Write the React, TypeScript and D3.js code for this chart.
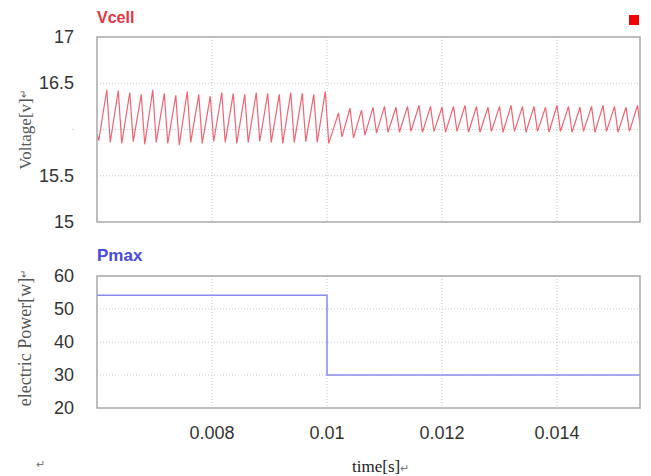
import React from "react";
import * as d3 from "d3";

// Vcell waveform vertices: [time s, voltage V]
const vcellPoints: [number, number][] = [
  [0.006, 15.95],
  [0.00603, 15.88], [0.00617, 16.43], [0.00623, 15.86], [0.00637, 16.42],
  [0.00643, 15.85], [0.00657, 16.4], [0.00663, 15.87], [0.00677, 16.38],
  [0.00683, 15.84], [0.00697, 16.43], [0.00703, 15.86], [0.00717, 16.39],
  [0.00723, 15.85], [0.00737, 16.37], [0.00743, 15.83], [0.00757, 16.41],
  [0.00763, 15.86], [0.00777, 16.38], [0.00783, 15.85], [0.00797, 16.36],
  [0.00803, 15.87], [0.00817, 16.4], [0.00823, 15.86], [0.00837, 16.39],
  [0.00843, 15.85], [0.00857, 16.38], [0.00863, 15.86], [0.00877, 16.4],
  [0.00883, 15.87], [0.00897, 16.39], [0.00903, 15.86], [0.00917, 16.38],
  [0.00923, 15.85], [0.00937, 16.4], [0.00943, 15.86], [0.00957, 16.39],
  [0.00963, 15.87], [0.00977, 16.38], [0.00983, 15.86], [0.00997, 16.41],
  [0.01003, 15.85],
  [0.0102, 16.18], [0.01026, 15.92], [0.0104, 16.23], [0.01046, 15.91],
  [0.0106, 16.21], [0.01066, 15.94], [0.0108, 16.24], [0.01086, 15.96],
  [0.011, 16.25], [0.01106, 15.97], [0.0112, 16.24], [0.01126, 15.97],
  [0.0114, 16.25], [0.01146, 15.98], [0.0116, 16.26], [0.01166, 15.97],
  [0.0118, 16.25], [0.01186, 15.98], [0.012, 16.24], [0.01206, 15.97],
  [0.0122, 16.25], [0.01226, 15.98], [0.0124, 16.26], [0.01246, 15.97],
  [0.0126, 16.25], [0.01266, 15.97], [0.0128, 16.24], [0.01286, 15.98],
  [0.013, 16.25], [0.01306, 15.97], [0.0132, 16.26], [0.01326, 15.98],
  [0.0134, 16.25], [0.01346, 15.97], [0.0136, 16.25], [0.01366, 15.98],
  [0.0138, 16.24], [0.01386, 15.97], [0.014, 16.26], [0.01406, 15.98],
  [0.0142, 16.25], [0.01426, 15.97], [0.0144, 16.24], [0.01446, 15.98],
  [0.0146, 16.25], [0.01466, 15.97], [0.0148, 16.26], [0.01486, 15.98],
  [0.015, 16.25], [0.01506, 15.97], [0.0152, 16.24], [0.01526, 15.98],
  [0.0154, 16.26], [0.01546, 15.97],
];

// Pmax step values
const pmaxTime = [0.006, 0.01, 0.015443];
const pmaxValue = [54.2, 30, 30];

const xTicks = [0.008, 0.01, 0.012, 0.014];
const vGrid = [16.5, 16, 15.5];
const vTickLabels = [17, 16.5, 15.5, 15];
const pTicks = [60, 50, 40, 30, 20];
const pGrid = [50, 40, 30];

const W = 651;
const H = 476;
const left = 97;
const right = 640;
const top1 = 37;
const bot1 = 222;
const top2 = 276;
const bot2 = 408;

const tickFont = "'Liberation Sans', Arial, sans-serif";
const serif = "'Liberation Serif', 'Times New Roman', serif";

export default function App() {
  const x = d3.scaleLinear().domain([0.006, 0.015443]).range([left, right]);
  const yV = d3.scaleLinear().domain([15, 17]).range([bot1, top1]);
  const yP = d3.scaleLinear().domain([20, 60]).range([bot2, top2]);

  const vLine = d3
    .line<[number, number]>()
    .x((d) => x(d[0]))
    .y((d) => yV(d[1]));

  const pLine = d3
    .line<number>()
    .x((d, i) => x(pmaxTime[i]))
    .y((d) => yP(d))
    .curve(d3.curveStepAfter);

  const grid = "#c8c8c8";

  return (
    <svg
      width={W}
      height={H}
      style={{ position: "absolute", left: 0, top: 0, background: "#fff" }}
    >
      <defs>
        <clipPath id="clip1">
          <rect x={left} y={top1} width={right - left} height={bot1 - top1} />
        </clipPath>
      </defs>

      {/* top panel */}
      <text x={97} y={23} fill="#e8343f" fontFamily={tickFont} fontWeight="bold" fontSize={16}>
        Vcell
      </text>
      <rect x={629} y={15} width={10} height={10} fill="#f00000" />
      {vGrid.map((v) => (
        <line key={v} x1={left} x2={right} y1={yV(v)} y2={yV(v)} stroke={grid} strokeDasharray="1,2" />
      ))}
      {xTicks.map((t) => (
        <line key={t} x1={x(t)} x2={x(t)} y1={top1} y2={bot1} stroke={grid} strokeDasharray="1,2" />
      ))}
      <path d={vLine(vcellPoints) ?? ""} fill="none" stroke="#f06474" strokeWidth={1.2} clipPath="url(#clip1)" />
      <rect x={left} y={top1} width={right - left} height={bot1 - top1} fill="none" stroke="#a8a8a8" strokeWidth={1.5} />
      {vTickLabels.map((v) => (
        <text key={v} x={74} y={yV(v) + 6} textAnchor="end" fill="#333" fontFamily={tickFont} fontSize={18}>
          {v}
        </text>
      ))}
      <text x={74} y={yV(16) + 2} textAnchor="end" fill="#999" fontSize={8}>·</text>
      <text
        transform={`translate(31,130) rotate(-90)`}
        textAnchor="middle"
        fill="#555"
        fontFamily={serif}
        fontSize={17}
      >
        Voltage[v]<tspan fontSize={10} dy={-4}>↵</tspan>
      </text>

      {/* bottom panel */}
      <text x={97} y={261} fill="#4a4ae0" fontFamily={tickFont} fontWeight="bold" fontSize={17}>
        Pmax
      </text>
      {pGrid.map((v) => (
        <line key={v} x1={left} x2={right} y1={yP(v)} y2={yP(v)} stroke={grid} strokeDasharray="1,2" />
      ))}
      {xTicks.map((t) => (
        <line key={t} x1={x(t)} x2={x(t)} y1={top2} y2={bot2} stroke={grid} strokeDasharray="1,2" />
      ))}
      <path d={pLine(pmaxValue) ?? ""} fill="none" stroke="#8a8af0" strokeWidth={1.5} />
      <rect x={left} y={top2} width={right - left} height={bot2 - top2} fill="none" stroke="#a8a8a8" strokeWidth={1.5} />
      {pTicks.map((v) => (
        <text key={v} x={74} y={yP(v) + 6} textAnchor="end" fill="#333" fontFamily={tickFont} fontSize={18}>
          {v}
        </text>
      ))}
      <text
        transform={`translate(31,338) rotate(-90)`}
        textAnchor="middle"
        fill="#555"
        fontFamily={serif}
        fontSize={18}
      >
        electric Power[w]<tspan fontSize={10} dy={-4}>↵</tspan>
      </text>

      {/* x axis */}
      {xTicks.map((t) => (
        <text key={t} x={x(t)} y={439} textAnchor="middle" fill="#333" fontFamily={tickFont} fontSize={18}>
          {d3.format("")(t)}
        </text>
      ))}
      <text x={352} y={472} fill="#222" fontFamily={serif} fontSize={17}>
        time[s]<tspan fontSize={11} fill="#777">↵</tspan>
      </text>
      <text x={36} y={468} fill="#777" fontSize={11}>↵</text>
    </svg>
  );
}
